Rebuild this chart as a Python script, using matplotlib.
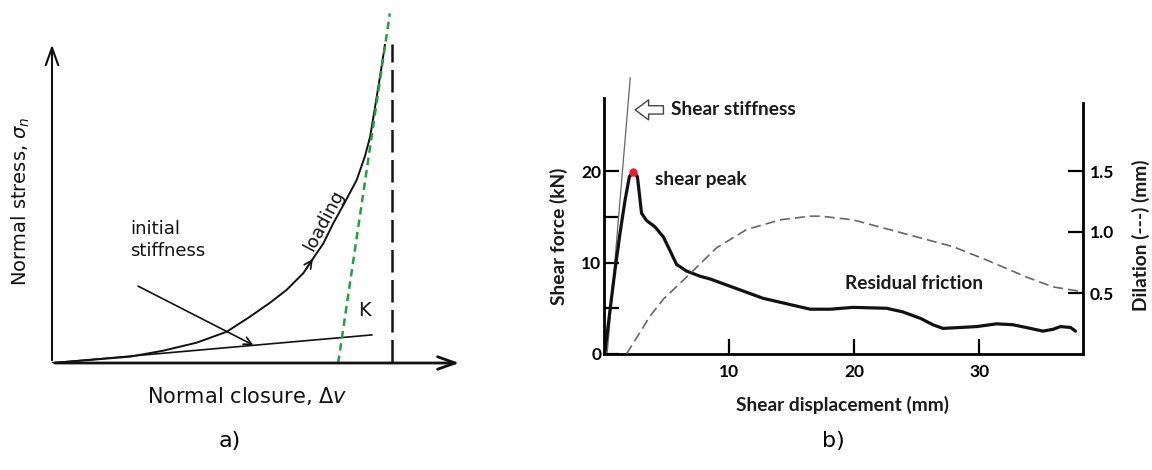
import matplotlib
matplotlib.use('Agg')
import matplotlib.pyplot as plt

plt.rcParams['mathtext.fontset'] = 'dejavusans'

# ---- panel a: normal closure sketch (arbitrary units) ----
load_x = [0, 1.90, 2.71, 3.53, 4.26, 4.83, 5.32, 5.72, 6.13, 6.37, 6.62, 6.86, 7.13,
          7.43, 7.63, 7.76, 7.88, 8.00, 8.12]
load_y = [0, 0.18, 0.35, 0.58, 0.89, 1.32, 1.72, 2.08, 2.56, 2.98, 3.41, 3.98, 4.55,
          5.21, 5.88, 6.45, 7.30, 8.16, 9.06]
init_x = [0, 7.80]
init_y = [0, 0.80]
tang_x = [6.98, 8.24]
tang_y = [0, 9.96]
limit_x = [8.29, 8.29]
limit_y = [0.04, 9.10]

# ---- panel b: shear test ----
shear_x = [0, 0.08, 0.48, 0.88, 1.28, 1.68, 2.03, 2.35, 2.67, 2.83, 3.0, 3.4, 4.08, 4.75,
           5.28, 5.8, 6.6, 7.7, 8.5, 10.1, 12.7, 14.9, 16.5, 18.1, 19.9, 22.6, 23.9,
           25.3, 26.3, 27.1, 28.5, 29.8, 31.4, 32.7, 34.1, 35.1, 35.9, 36.5, 37.3, 37.7]
shear_f = [0, 0.25, 4.8, 9.2, 13.2, 16.8, 19.4, 19.9, 19.4, 17.5, 15.4, 14.6, 13.9, 12.8,
           11.3, 9.8, 9.07, 8.5, 8.2, 7.4, 6.1, 5.4, 4.9, 4.9, 5.1, 5.0, 4.6,
           3.9, 3.2, 2.8, 2.9, 3.0, 3.3, 3.2, 2.8, 2.5, 2.7, 3.0, 2.9, 2.5]
dil_x = [1.8, 3.68, 4.75, 6.9, 9.0, 11.4, 14.1, 16.5, 17.3, 19.9, 23.9, 27.9, 30.6, 33.8, 35.9, 38.3]
dil_y = [0, 0.31, 0.45, 0.66, 0.87, 1.02, 1.10, 1.13, 1.13, 1.10, 0.99, 0.88, 0.77, 0.63, 0.55, 0.51]
stiff_x = [0.25, 2.1]
stiff_y = [0, 30.2]
peak = (2.35, 19.9)
force_ticks = [0, 5, 10, 15, 20]
force_labels = ['0', '', '10', '', '20']
disp_ticks = [10, 20, 30]
dil_ticks = [0.5, 1.0, 1.5]
dil_labels = ['0.5', '1.0', '1.5']

fig = plt.figure(figsize=(11.52, 4.70), dpi=100)

# panel a
axa = fig.add_axes([52 / 1152, 107 / 470, 410 / 1152, 351 / 470])
axa.set_xlim(0, 10)
axa.set_ylim(0, 10)
axa.axis('off')
txt = dict(family='DejaVu Sans', color='#111111')

axa.annotate('', xy=(0, 9.15), xytext=(0, 0),
             arrowprops=dict(arrowstyle='->,head_length=0.7,head_width=0.25', lw=1.5, color='#111', mutation_scale=18))
axa.annotate('', xy=(10, 0), xytext=(0, 0),
             arrowprops=dict(arrowstyle='->,head_length=0.7,head_width=0.25', lw=2, color='#111', mutation_scale=18))
axa.plot(load_x, load_y, color='#111', lw=1.4, solid_joinstyle='round')
axa.plot(init_x, init_y, color='#111', lw=1.2)
axa.plot(tang_x, tang_y, color='#22a040', lw=1.8, ls=(0, (3, 2)), clip_on=False)
axa.plot(limit_x, limit_y, color='#111', lw=1.8, ls=(0, (9, 3)))
axa.annotate('', xy=(6.40, 3.03), xytext=(6.15, 2.6),
             arrowprops=dict(arrowstyle='->', lw=1.2, color='#111', mutation_scale=14))
axa.annotate('', xy=(4.91, 0.51), xytext=(2.1, 2.19),
             arrowprops=dict(arrowstyle='->', lw=1.2, color='#111', mutation_scale=14, shrinkA=0, shrinkB=0))
axa.text(1.9, 3.5, 'initial\nstiffness', fontsize=13, ha='left', va='center', linespacing=1.25, **txt)
axa.text(6.62, 4.05, 'loading', fontsize=13, rotation=62, ha='center', va='center', **txt)
axa.text(7.62, 1.5, 'K', fontsize=14, ha='center', va='center', **txt)
axa.text(4.75, -0.95, r'Normal closure, $\Delta v$', fontsize=15, ha='center', va='center', **txt)
axa.text(-0.75, 4.6, r'Normal stress, $\sigma_n$', fontsize=14, rotation=90, ha='center', va='center', **txt)

# panel b
lato = ['Lato', 'DejaVu Sans']
bold = dict(family=lato, weight='bold', color='#1a1a1a')
ax = fig.add_axes([604 / 1152, 116 / 470, 479 / 1152, 256 / 470])
ax.set_xlim(0, 38.3)
ax.set_ylim(0, 28)
ax.plot(stiff_x, stiff_y, color='#666', lw=0.9, clip_on=False)
ax.plot(shear_x, shear_f, color='#111', lw=2.3, solid_joinstyle='round', solid_capstyle='round')
ax.plot(*peak, 'o', color='#e8202a', ms=5, zorder=5)

ax.spines['top'].set_visible(False)
ax.spines['right'].set_visible(False)
for s in ('left', 'bottom'):
    ax.spines[s].set_linewidth(2)
ax.set_xticks(disp_ticks)
ax.set_yticks(force_ticks)
ax.set_yticklabels(force_labels)
ax.tick_params(direction='in', length=11, width=1.6, labelsize=12.5)
ax.tick_params(axis='x', pad=7)
ax.tick_params(axis='y', pad=2)
for lab in ax.get_xticklabels() + ax.get_yticklabels():
    lab.set_fontfamily(lato)
    lab.set_fontweight('bold')

ax2 = ax.twinx()
ax2.set_ylim(0, 256 / 122)
ax2.plot(dil_x, dil_y, color='#666', lw=1.2, ls=(0, (6, 3)))
for s in ('left', 'top', 'bottom'):
    ax2.spines[s].set_visible(False)
ax2.spines['right'].set_linewidth(2)
ax2.spines['right'].set_bounds(0, 2.06)
ax2.set_yticks(dil_ticks)
ax2.set_yticklabels(dil_labels)
ax2.tick_params(direction='in', length=11, width=1.6, labelsize=12.5, pad=5)
for lab in ax2.get_yticklabels():
    lab.set_fontfamily(lato)
    lab.set_fontweight('bold')

ax.annotate('', xy=(2.5, 26.7), xytext=(4.75, 26.7),
            arrowprops=dict(arrowstyle='simple,head_length=0.8,head_width=1.2,tail_width=0.5',
                            fc='white', ec='#444', lw=1, mutation_scale=12, shrinkA=0, shrinkB=0))
ax.text(5.36, 26.7, 'Shear stiffness', fontsize=13.8, ha='left', va='center', **bold)
ax.text(4.08, 19.1, 'shear peak', fontsize=13.8, ha='left', va='center', **bold)
ax.text(19.3, 7.76, 'Residual friction', fontsize=13.8, ha='left', va='center', **bold)
ax.text(0.497, -0.2, 'Shear displacement (mm)', transform=ax.transAxes, fontsize=13.8,
        ha='center', va='center', **bold)
ax.text(-0.094, 0.46, 'Shear force (kN)', transform=ax.transAxes, fontsize=13.8,
        rotation=90, ha='center', va='center', **bold)
ax.text(1.12, 0.465, 'Dilation (---) (mm)', transform=ax.transAxes, fontsize=13.8,
        rotation=90, ha='center', va='center', **bold)

narrow = ['Liberation Sans Narrow', 'DejaVu Sans']
fig.text(230 / 1152, 1 - 441 / 470, 'a)', fontsize=16, family=narrow, ha='center', va='center')
fig.text(833 / 1152, 1 - 441 / 470, 'b)', fontsize=16, family=narrow, ha='center', va='center')

fig.savefig('out.png', dpi=100)
